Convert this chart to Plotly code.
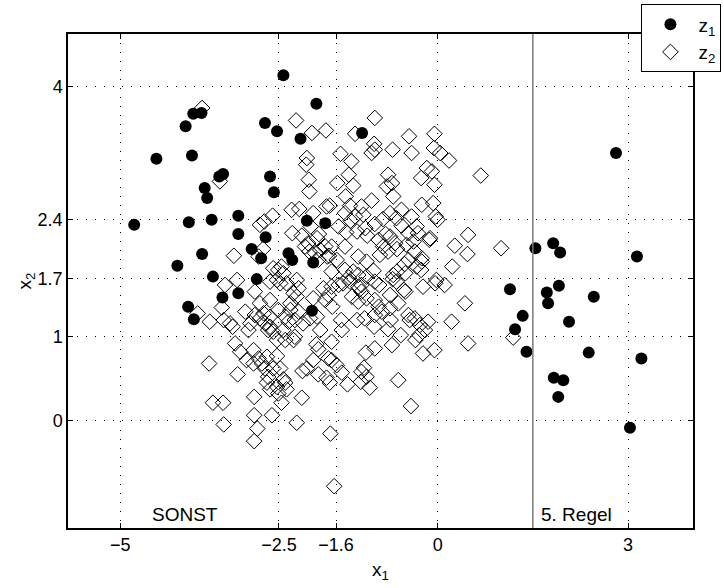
import plotly.graph_objects as go

# ---------------- data ----------------
z1_x = [-2.43, -1.91, -3.72, -3.85, -3.97, -2.72, -2.53, -2.16, -1.19, -4.43,
        -3.87, -3.38, -3.44, -2.64, -3.67, -2.58, -3.63, -4.78, -3.92, -3.56,
        -3.14, -3.14, -2.71, -2.06, -1.77, -2.93, -2.78, -2.35, -2.29, -1.96,
        -3.71, -4.10, -3.54, -2.85, -3.14, -3.39, -3.93, -3.84, -1.98, 1.54,
        1.82, 1.93, 2.81, 3.14, 1.14, 1.72, 1.91, 1.74, 2.46, 1.34,
        2.07, 1.22, 1.40, 2.38, 3.21, 1.83, 1.98, 1.90, 3.03]
z1_y = [4.13, 3.79, 3.68, 3.67, 3.52, 3.56, 3.46, 3.37, 3.44, 3.13,
        3.17, 2.95, 2.92, 2.92, 2.78, 2.73, 2.66, 2.34, 2.37, 2.40,
        2.45, 2.23, 2.19, 2.39, 2.36, 2.05, 1.94, 2.00, 1.92, 1.89,
        1.99, 1.85, 1.72, 1.69, 1.52, 1.47, 1.36, 1.21, 1.31, 2.06,
        2.12, 2.01, 3.20, 1.96, 1.57, 1.53, 1.61, 1.40, 1.48, 1.25,
        1.18, 1.09, 0.82, 0.81, 0.74, 0.51, 0.48, 0.28, -0.09]

z2_x = [-3.71, -2.23, -1.98, -1.76, -0.99, -1.30, -0.45, -0.05, -1.00, -0.99,
        -1.04, -0.71, -1.53, -0.41, -0.06, 0.04, 0.18, -1.36, -2.06, -2.07,
        0.68, -0.17, -0.09, -0.26, -0.78, -1.40, -1.58, -2.03, -3.43, -0.05,
        -2.02, -1.33, -0.80, -0.72, -0.70, -1.45, -1.38, -1.70, -1.20, -1.04,
        -0.25, -0.07, -2.18, -0.57, -1.46, -1.30, -1.17, -0.75, -0.65, -0.41,
        0.00, -0.03, -2.60, -2.73, -1.96, -1.75, -2.30,
        -1.56, -0.99, -1.14, -1.27, -0.57, -0.33, -0.31, -0.46, -0.12, 0.48,
        0.27, 0.47, -2.29, -2.14, -2.04, -1.90, -1.77, -2.09, -1.67, -1.46,
        -0.93, -0.86, -0.75, -0.67, -0.91, -0.78, -0.49, -0.38, -0.36, 1.00,
        -2.75, -2.80, -1.11, -0.82, -1.87, -1.44, -0.13, -2.00, -1.37, -0.86,
        -1.71, -1.59, -1.25, -1.12, -1.01, -1.25, -0.46, -0.33, -0.25, 0.23,
        -1.46, -1.67, -1.12, -0.70, -0.51, -2.02, -1.93, -1.85, -1.74, -1.88,
        -3.21, -2.82, -2.59, -2.51, -2.43, -2.53, -2.64, -2.38, -2.46, -0.64,
        -0.25, -0.52, -0.64, -0.26, -1.33, -1.40, -0.71,
        -1.38, -1.56, -1.20, -0.99, -0.65, -0.02, 0.11, -1.67, -1.49, -1.25,
        -1.20, -1.35, -1.25, -1.12, -0.99, -1.72, -1.66, -0.93, -0.88, -0.99,
        -0.75, -0.75, -0.51, -0.62, -0.23, -0.04, 0.43, -0.92, -0.53, -2.22,
        -2.19, -3.16, -3.35, -2.88, -2.48, -2.27, -1.80, -1.96, -1.77, -2.22,
        -2.32, -2.64,
        -3.40, -3.78, -3.59, -3.37, -3.27, -3.23, -3.03, -2.95, -2.98, -2.80,
        -2.74, -2.72, -2.80, -2.67, -2.51, -2.64, -2.32, -2.40, -2.43, -2.35,
        -2.25, -2.53, -2.88, -2.64, -2.59, -2.40, -2.27, -2.19, -2.25, -2.12,
        -2.01, -1.90, -1.85, -1.52, -1.27, -1.00, -0.78, -0.74, -0.46, -0.44,
        -0.36, -0.28, -0.20, -0.15, 0.22, -0.58, -1.51, -1.15, -0.29,
        -0.35, -0.72, -0.99, -1.13, -0.23, -0.05, 0.48, 1.19, -1.72, -1.67,
        -1.59, -1.16, -1.67, -1.91, -1.88, -1.96, -2.06, -3.19, -3.11, -3.01,
        -2.90, -2.90, -2.82, -2.77, -2.72, -2.69, -2.59, -2.48, -3.60, -3.15,
        -1.20, -1.12, -1.07, -1.21, -0.62, -0.42, -2.53,
        -1.51, -1.42, -1.75, -1.70, -1.88, -2.13, -2.67, -2.69, -2.64, -2.53,
        -2.51, -2.40, -2.46, -2.89, -2.89, -2.84, -2.89, -3.54, -3.38, -3.37,
        -2.61, -2.14, -2.22, -1.69, -1.63, -2.43, -2.38]
z2_y = [3.74, 3.59, 3.44, 3.47, 3.62, 3.43, 3.40, 3.43, 3.31, 3.24,
        3.20, 3.24, 3.19, 3.20, 3.26, 3.20, 3.11, 3.10, 3.14, 3.06,
        2.93, 3.02, 2.98, 2.90, 2.94, 2.94, 2.84, 2.88, 2.86, 2.82,
        2.74, 2.81, 2.80, 2.84, 2.68, 2.68, 2.57, 2.57, 2.56, 2.63,
        2.58, 2.60, 2.53, 2.52, 2.48, 2.44, 2.46, 2.48, 2.42, 2.44,
        2.40, 2.44, 2.45, 2.38, 2.48, 2.56, 2.52,
        2.32, 2.35, 2.30, 2.26, 2.33, 2.32, 2.24, 2.24, 2.18, 2.22,
        2.09, 1.99, 2.24, 2.21, 2.12, 2.18, 2.08, 2.08, 2.08, 2.08,
        2.16, 2.08, 2.20, 2.12, 1.98, 2.02, 2.10, 2.14, 2.02, 2.06,
        2.05, 2.34, 2.21, 2.23, 2.23, 2.25, 2.16, 2.32, 2.39, 2.41,
        1.97, 1.92, 1.96, 1.90, 1.79, 1.74, 1.92, 1.84, 1.90, 1.84,
        1.80, 1.78, 1.72, 1.74, 1.76, 2.02, 2.00, 2.04, 1.96, 1.92,
        1.97, 1.96, 1.82, 1.80, 1.76, 1.68, 1.66, 1.64, 1.84, 2.05,
        1.94, 1.87, 1.78, 1.80, 1.78, 1.71, 1.69,
        1.66, 1.62, 1.62, 1.66, 1.66, 1.68, 1.62, 1.60, 1.64, 1.60,
        1.54, 1.48, 1.42, 1.46, 1.44, 1.50, 1.36, 1.36, 1.30, 1.26,
        1.50, 1.34, 1.54, 1.40, 1.60, 1.64, 1.40, 1.62, 1.56, 1.68,
        1.58, 1.68, 1.62, 1.54, 1.64, 1.52, 1.58, 1.46, 1.44, 1.48,
        1.40, 1.44,
        1.35, 1.28, 1.18, 1.20, 1.16, 1.12, 1.30, 1.16, 1.08, 1.40,
        1.28, 1.16, 1.22, 1.08, 1.32, 1.24, 1.32, 1.24, 1.08, 1.18,
        1.00, 0.96, 1.26, 1.12, 1.06, 0.96, 0.96, 1.30, 1.20, 1.16,
        1.22, 1.24, 1.08, 1.20, 1.20, 1.12, 1.09, 1.20, 1.26, 1.20,
        1.22, 1.14, 1.08, 1.18, 1.18, 1.02, 1.08, 1.22, 1.02,
        0.96, 0.90, 0.86, 0.81, 0.80, 0.84, 0.92, 0.99, 0.74, 0.72,
        0.66, 0.63, 0.94, 0.91, 0.85, 0.72, 0.62, 0.92, 0.82, 0.72,
        0.68, 0.84, 0.74, 0.68, 0.62, 0.76, 0.62, 0.62, 0.68, 0.55,
        0.58, 0.52, 0.39, 0.46, 0.48, 0.17, 0.77,
        0.57, 0.43, 0.51, 0.45, 0.55, 0.59, 0.52, 0.45, 0.37, 0.40,
        0.32, 0.45, 0.21, 0.28, 0.06, -0.10, -0.25, 0.21, 0.21, -0.05,
        0.06, 0.27, -0.03, -0.16, -0.79, 0.49, 0.37]

x_ticks = [-5, -2.5, -1.6, 0, 3]
x_tick_labels = ["\u22125", "\u22122.5", "\u22121.6", "0", "3"]
y_ticks = [0, 1, 1.7, 2.4, 4]
y_tick_labels = ["0", "1", "1.7", "2.4", "4"]

x_range = [-5.823, 4.023]
y_range = [-1.29, 4.625]

rule_x = 1.5          # boundary of "5. Regel"
label_y = -1.13
labels = [("SONST", -4.53), ("5. Regel", 1.59)]

# ---------------- figure ----------------
FONT = "Liberation Sans, Arial, Helvetica, sans-serif"
fig = go.Figure()

fig.add_trace(go.Scatter(
    x=z2_x, y=z2_y, mode="markers", name="z<sub>2</sub>", legendrank=2,
    marker=dict(symbol="diamond-open", size=12, color="black",
                line=dict(color="black", width=1)),
))
fig.add_trace(go.Scatter(
    x=z1_x, y=z1_y, mode="markers", name="z<sub>1</sub>", legendrank=1,
    marker=dict(symbol="circle", size=12, color="black",
                line=dict(width=0)),
))

fig.add_shape(type="line", xref="x", yref="paper", x0=rule_x, x1=rule_x,
              y0=0, y1=1, line=dict(color="#7a7a7a", width=1.5), layer="above")

for txt, xv in labels:
    fig.add_annotation(x=xv, y=label_y, xref="x", yref="y", text=txt,
                       showarrow=False, xanchor="left", yanchor="middle",
                       font=dict(family=FONT, size=19, color="black"))

axis_common = dict(
    showline=True, linecolor="black", linewidth=1.5, mirror="ticks",
    ticks="inside", ticklen=5, tickwidth=1, tickcolor="black",
    showgrid=True, gridcolor="black", gridwidth=1, griddash="1px,8px",
    zeroline=False, tickfont=dict(family=FONT, size=18, color="black"),
)

fig.update_xaxes(range=x_range, tickmode="array", tickvals=x_ticks,
                 ticktext=x_tick_labels,
                 title=dict(text="x<sub>1</sub>", standoff=8,
                            font=dict(family=FONT, size=19, color="black")),
                 **axis_common)
fig.update_yaxes(range=y_range, tickmode="array", tickvals=y_ticks,
                 ticktext=y_tick_labels,
                 title=dict(text="x<sub>2</sub>", standoff=0,
                            font=dict(family=FONT, size=19, color="black")),
                 **axis_common)

fig.update_layout(
    width=724, height=588,
    margin=dict(l=68, r=31, t=34, b=60, autoexpand=False),
    plot_bgcolor="white", paper_bgcolor="white",
    font=dict(family=FONT, size=18, color="black"),
    showlegend=True,
    legend=dict(x=0.9175, y=1.06, xanchor="left", yanchor="top",
                bgcolor="white", bordercolor="black", borderwidth=1,
                font=dict(family=FONT, size=19, color="black"),
                tracegroupgap=0, itemwidth=46),
)

fig.write_html("out.html")
